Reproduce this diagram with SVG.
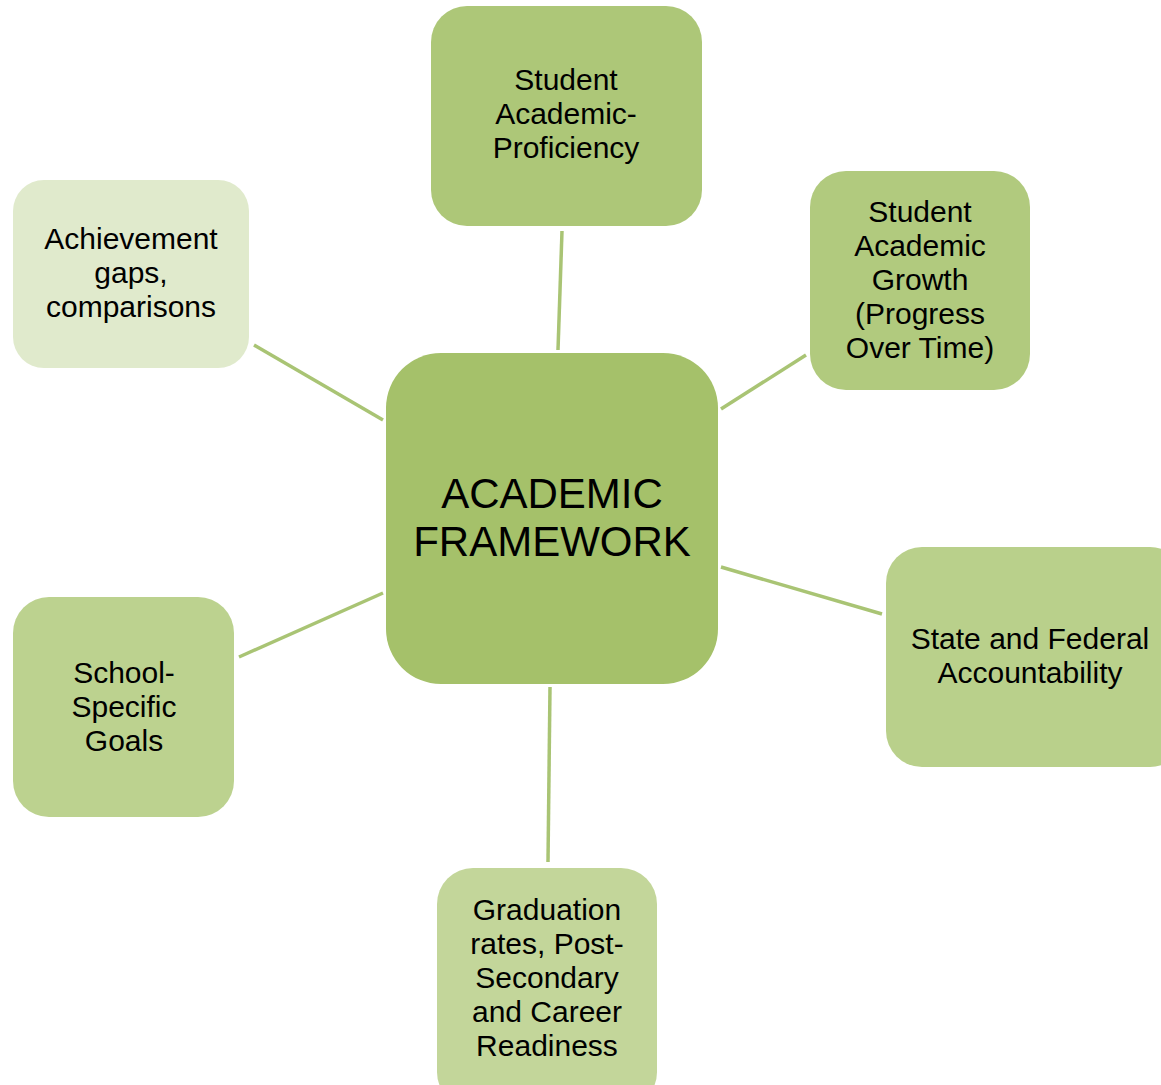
<svg xmlns="http://www.w3.org/2000/svg" width="1161" height="1085" viewBox="0 0 1161 1085">
<style>
.t{font-family:"Liberation Sans",Arial,sans-serif;font-size:30px;fill:#000;text-anchor:middle}
.c{font-family:"Liberation Sans",Arial,sans-serif;font-size:42px;fill:#000;text-anchor:middle}
.ln{stroke:#a9c474;stroke-width:3.5;fill:none}
</style>
<rect width="1161" height="1085" fill="#fff"/>
<g id="connectors">
<line class="ln" x1="562" y1="231" x2="558" y2="350"/>
<line class="ln" x1="254" y1="345" x2="383" y2="420"/>
<line class="ln" x1="806" y1="355" x2="721" y2="409"/>
<line class="ln" x1="721" y1="567" x2="882" y2="614"/>
<line class="ln" x1="239" y1="657" x2="383" y2="593"/>
<line class="ln" x1="550" y1="687" x2="548" y2="862"/>
</g>
<g id="center">
<rect x="386" y="353" width="332" height="331" rx="55" fill="#a5c16a"/>
<text class="c" x="552" y="508">ACADEMIC</text>
<text class="c" x="552" y="556">FRAMEWORK</text>
</g>
<g id="proficiency">
<rect x="431" y="6" width="271" height="220" rx="36" fill="#adc778"/>
<text class="t" x="566" y="90">Student</text>
<text class="t" x="566" y="124">Academic-</text>
<text class="t" x="566" y="158">Proficiency</text>
</g>
<g id="growth">
<rect x="810" y="171" width="220" height="219" rx="36" fill="#b1ca7e"/>
<text class="t" x="920" y="222">Student</text>
<text class="t" x="920" y="256">Academic</text>
<text class="t" x="920" y="290">Growth</text>
<text class="t" x="920" y="324">(Progress</text>
<text class="t" x="920" y="358">Over Time)</text>
</g>
<g id="achievement">
<rect x="13" y="180" width="236" height="188" rx="31" fill="#e0eacc"/>
<text class="t" x="131" y="249">Achievement</text>
<text class="t" x="131" y="283">gaps,</text>
<text class="t" x="131" y="317">comparisons</text>
</g>
<g id="accountability">
<rect x="886" y="547" width="300" height="220" rx="36" fill="#b9d08b"/>
<text class="t" x="1030" y="649">State and Federal</text>
<text class="t" x="1030" y="683">Accountability</text>
</g>
<g id="school">
<rect x="13" y="597" width="221" height="220" rx="36" fill="#bcd28f"/>
<text class="t" x="124" y="683">School-</text>
<text class="t" x="124" y="717">Specific</text>
<text class="t" x="124" y="751">Goals</text>
</g>
<g id="graduation">
<rect x="437" y="868" width="220" height="240" rx="36" fill="#c3d69a"/>
<text class="t" x="547" y="920">Graduation</text>
<text class="t" x="547" y="954">rates, Post-</text>
<text class="t" x="547" y="988">Secondary</text>
<text class="t" x="547" y="1022">and Career</text>
<text class="t" x="547" y="1056">Readiness</text>
</g>
</svg>
